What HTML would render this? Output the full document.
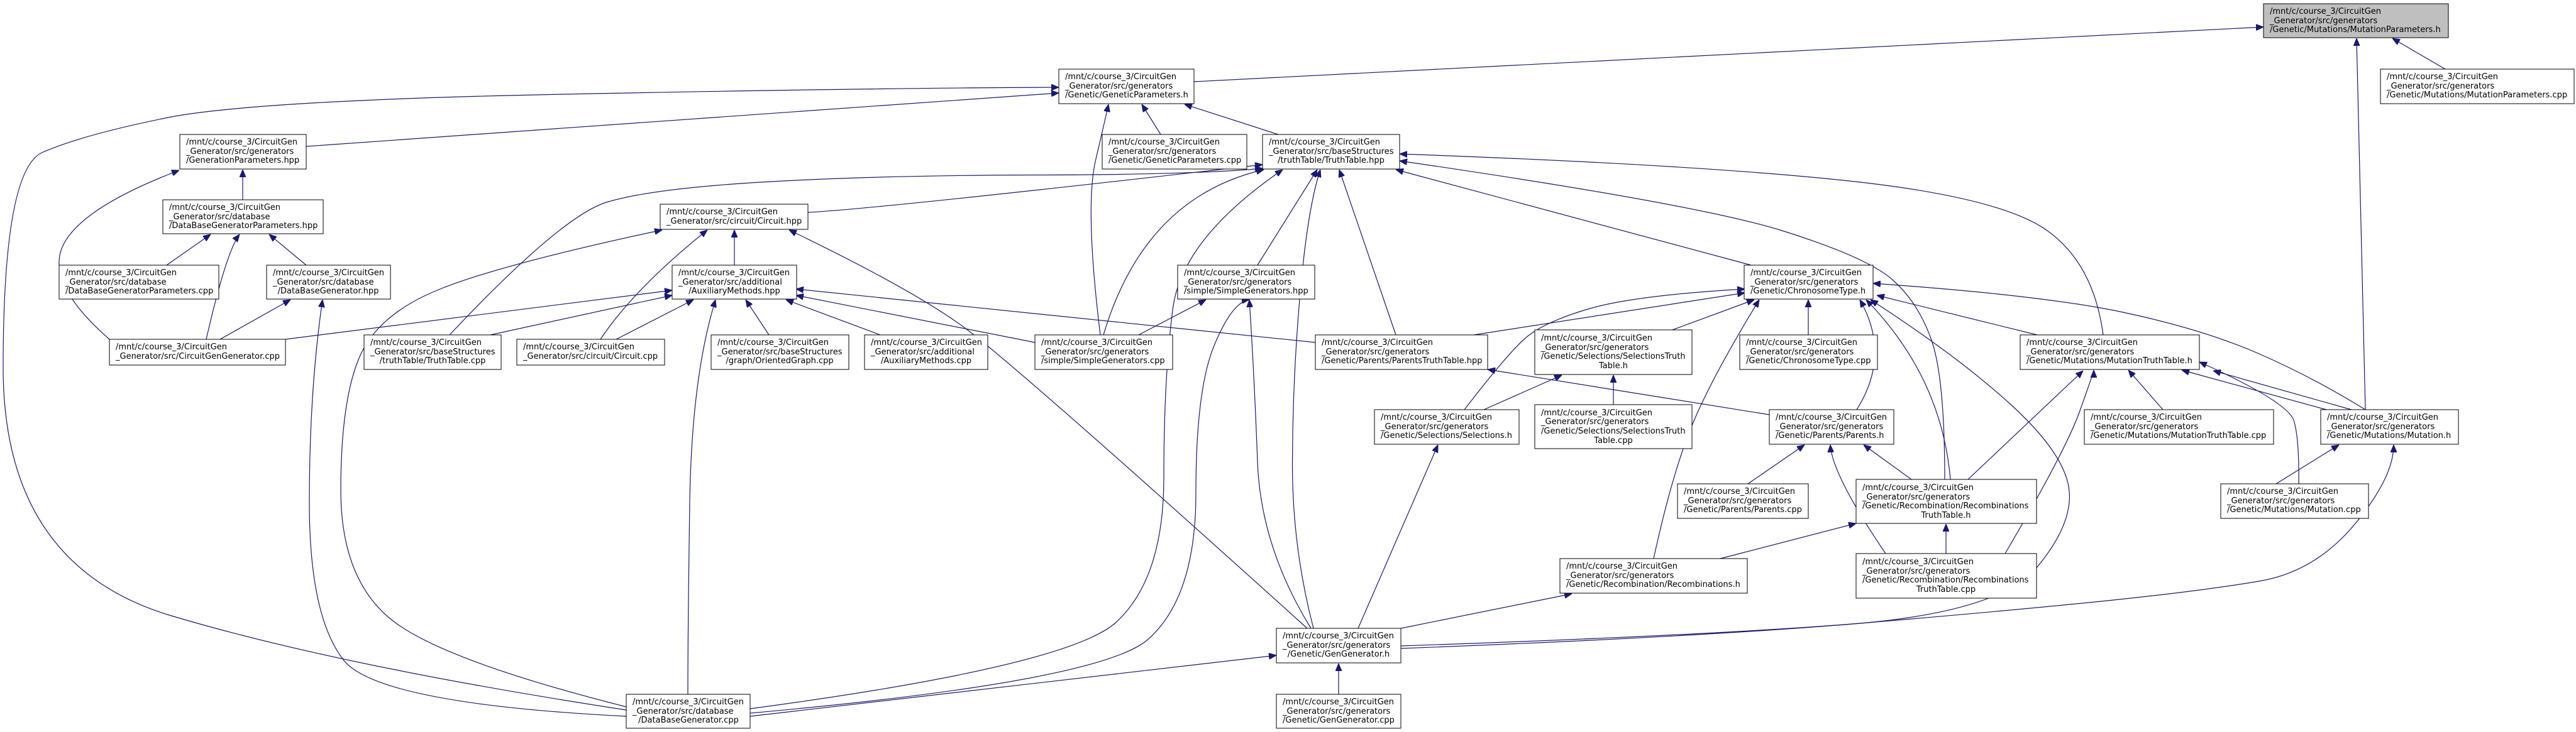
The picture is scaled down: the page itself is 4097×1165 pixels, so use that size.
<!DOCTYPE html>
<html><head><meta charset="utf-8"><style>
html,body{margin:0;padding:0;background:#fff;}
svg{display:block;}
text{font-family:"DejaVu Sans","Liberation Sans",sans-serif;font-size:13px;fill:#000;}
.n{fill:#fff;stroke:#000;stroke-width:1;}
.g{fill:#bfbfbf;stroke:#000;stroke-width:1;}
.e{fill:none;stroke:#191970;stroke-width:1.2;}
</style></head><body>
<svg id="s" width="4097" height="1165" viewBox="0 0 4097 1165" xmlns="http://www.w3.org/2000/svg">
<defs><marker id="a" viewBox="0 0 12 10" refX="12" refY="5" markerWidth="12" markerHeight="10" markerUnits="userSpaceOnUse" orient="auto"><path d="M0,0 L12,5 L0,10 z" fill="#191970" stroke="#191970"/></marker></defs>
<g id="edges"></g>
<g id="nodes">
<rect class="g" x="3600" y="6" width="294" height="54"/><text x="3610" y="22">/mnt/c/course_3/CircuitGen</text><text x="3610" y="37">_Generator/src/generators</text><text x="3610" y="51">/Genetic/Mutations/MutationParameters.h</text>
<rect class="n" x="3786" y="110" width="308" height="55"/><text x="3796" y="126">/mnt/c/course_3/CircuitGen</text><text x="3796" y="141">_Generator/src/generators</text><text x="3796" y="155">/Genetic/Mutations/MutationParameters.cpp</text>
<rect class="n" x="1684" y="110" width="215" height="55"/><text x="1694" y="126">/mnt/c/course_3/CircuitGen</text><text x="1694" y="141">_Generator/src/generators</text><text x="1694" y="155">/Genetic/GeneticParameters.h</text>
<rect class="n" x="286" y="214" width="201" height="55"/><text x="296" y="230">/mnt/c/course_3/CircuitGen</text><text x="296" y="245">_Generator/src/generators</text><text x="296" y="259">/GenerationParameters.hpp</text>
<rect class="n" x="1753" y="214" width="230" height="55"/><text x="1763" y="230">/mnt/c/course_3/CircuitGen</text><text x="1763" y="245">_Generator/src/generators</text><text x="1763" y="259">/Genetic/GeneticParameters.cpp</text>
<rect class="n" x="2008" y="214" width="218" height="55"/><text x="2018" y="230">/mnt/c/course_3/CircuitGen</text><text x="2018" y="245">_Generator/src/baseStructures</text><text x="2117" y="259" text-anchor="middle">/truthTable/TruthTable.hpp</text>
<rect class="n" x="259" y="318" width="255" height="54"/><text x="269" y="334">/mnt/c/course_3/CircuitGen</text><text x="269" y="349">_Generator/src/database</text><text x="269" y="363">/DataBaseGeneratorParameters.hpp</text>
<rect class="n" x="1050" y="325" width="235" height="40"/><text x="1060" y="341">/mnt/c/course_3/CircuitGen</text><text x="1060" y="356">_Generator/src/circuit/Circuit.hpp</text>
<rect class="n" x="94" y="422" width="254" height="54"/><text x="104" y="438">/mnt/c/course_3/CircuitGen</text><text x="104" y="453">_Generator/src/database</text><text x="104" y="467">/DataBaseGeneratorParameters.cpp</text>
<rect class="n" x="424" y="422" width="197" height="54"/><text x="434" y="438">/mnt/c/course_3/CircuitGen</text><text x="434" y="453">_Generator/src/database</text><text x="522" y="467" text-anchor="middle">/DataBaseGenerator.hpp</text>
<rect class="n" x="1069" y="422" width="198" height="54"/><text x="1079" y="438">/mnt/c/course_3/CircuitGen</text><text x="1079" y="453">_Generator/src/additional</text><text x="1168" y="467" text-anchor="middle">/AuxiliaryMethods.hpp</text>
<rect class="n" x="1873" y="422" width="218" height="54"/><text x="1883" y="438">/mnt/c/course_3/CircuitGen</text><text x="1883" y="453">_Generator/src/generators</text><text x="1883" y="467">/simple/SimpleGenerators.hpp</text>
<rect class="n" x="2774" y="422" width="205" height="54"/><text x="2784" y="438">/mnt/c/course_3/CircuitGen</text><text x="2784" y="453">_Generator/src/generators</text><text x="2784" y="467">/Genetic/ChronosomeType.h</text>
<rect class="n" x="174" y="540" width="280" height="41"/><text x="184" y="556">/mnt/c/course_3/CircuitGen</text><text x="184" y="571">_Generator/src/CircuitGenGenerator.cpp</text>
<rect class="n" x="579" y="533" width="218" height="55"/><text x="589" y="549">/mnt/c/course_3/CircuitGen</text><text x="589" y="564">_Generator/src/baseStructures</text><text x="688" y="578" text-anchor="middle">/truthTable/TruthTable.cpp</text>
<rect class="n" x="822" y="540" width="235" height="41"/><text x="832" y="556">/mnt/c/course_3/CircuitGen</text><text x="832" y="571">_Generator/src/circuit/Circuit.cpp</text>
<rect class="n" x="1131" y="533" width="219" height="55"/><text x="1141" y="549">/mnt/c/course_3/CircuitGen</text><text x="1141" y="564">_Generator/src/baseStructures</text><text x="1240" y="578" text-anchor="middle">/graph/OrientedGraph.cpp</text>
<rect class="n" x="1375" y="533" width="196" height="55"/><text x="1385" y="549">/mnt/c/course_3/CircuitGen</text><text x="1385" y="564">_Generator/src/additional</text><text x="1473" y="578" text-anchor="middle">/AuxiliaryMethods.cpp</text>
<rect class="n" x="1646" y="533" width="219" height="55"/><text x="1656" y="549">/mnt/c/course_3/CircuitGen</text><text x="1656" y="564">_Generator/src/generators</text><text x="1656" y="578">/simple/SimpleGenerators.cpp</text>
<rect class="n" x="2092" y="533" width="274" height="55"/><text x="2102" y="549">/mnt/c/course_3/CircuitGen</text><text x="2102" y="564">_Generator/src/generators</text><text x="2102" y="578">/Genetic/Parents/ParentsTruthTable.hpp</text>
<rect class="n" x="2441" y="525" width="250" height="71"/><text x="2451" y="542">/mnt/c/course_3/CircuitGen</text><text x="2451" y="557">_Generator/src/generators</text><text x="2451" y="571">/Genetic/Selections/SelectionsTruth</text><text x="2566" y="586" text-anchor="middle">Table.h</text>
<rect class="n" x="2767" y="533" width="219" height="55"/><text x="2777" y="549">/mnt/c/course_3/CircuitGen</text><text x="2777" y="564">_Generator/src/generators</text><text x="2777" y="578">/Genetic/ChronosomeType.cpp</text>
<rect class="n" x="3213" y="533" width="285" height="55"/><text x="3223" y="549">/mnt/c/course_3/CircuitGen</text><text x="3223" y="564">_Generator/src/generators</text><text x="3223" y="578">/Genetic/Mutations/MutationTruthTable.h</text>
<rect class="n" x="2186" y="652" width="230" height="55"/><text x="2196" y="668">/mnt/c/course_3/CircuitGen</text><text x="2196" y="683">_Generator/src/generators</text><text x="2196" y="697">/Genetic/Selections/Selections.h</text>
<rect class="n" x="2441" y="644" width="250" height="70"/><text x="2451" y="661">/mnt/c/course_3/CircuitGen</text><text x="2451" y="675">_Generator/src/generators</text><text x="2451" y="690">/Genetic/Selections/SelectionsTruth</text><text x="2566" y="705" text-anchor="middle">Table.cpp</text>
<rect class="n" x="2814" y="652" width="198" height="55"/><text x="2824" y="668">/mnt/c/course_3/CircuitGen</text><text x="2824" y="683">_Generator/src/generators</text><text x="2824" y="697">/Genetic/Parents/Parents.h</text>
<rect class="n" x="3315" y="652" width="301" height="55"/><text x="3325" y="668">/mnt/c/course_3/CircuitGen</text><text x="3325" y="683">_Generator/src/generators</text><text x="3325" y="697">/Genetic/Mutations/MutationTruthTable.cpp</text>
<rect class="n" x="3691" y="652" width="219" height="55"/><text x="3701" y="668">/mnt/c/course_3/CircuitGen</text><text x="3701" y="683">_Generator/src/generators</text><text x="3701" y="697">/Genetic/Mutations/Mutation.h</text>
<rect class="n" x="2668" y="770" width="208" height="55"/><text x="2678" y="786">/mnt/c/course_3/CircuitGen</text><text x="2678" y="801">_Generator/src/generators</text><text x="2678" y="815">/Genetic/Parents/Parents.cpp</text>
<rect class="n" x="2952" y="763" width="287" height="70"/><text x="2962" y="780">/mnt/c/course_3/CircuitGen</text><text x="2962" y="795">_Generator/src/generators</text><text x="2962" y="809">/Genetic/Recombination/Recombinations</text><text x="3095" y="824" text-anchor="middle">TruthTable.h</text>
<rect class="n" x="3532" y="770" width="235" height="55"/><text x="3542" y="786">/mnt/c/course_3/CircuitGen</text><text x="3542" y="801">_Generator/src/generators</text><text x="3542" y="815">/Genetic/Mutations/Mutation.cpp</text>
<rect class="n" x="2481" y="889" width="298" height="55"/><text x="2491" y="905">/mnt/c/course_3/CircuitGen</text><text x="2491" y="920">_Generator/src/generators</text><text x="2491" y="934">/Genetic/Recombination/Recombinations.h</text>
<rect class="n" x="2952" y="881" width="287" height="71"/><text x="2962" y="898">/mnt/c/course_3/CircuitGen</text><text x="2962" y="913">_Generator/src/generators</text><text x="2962" y="927">/Genetic/Recombination/Recombinations</text><text x="3095" y="942" text-anchor="middle">TruthTable.cpp</text>
<rect class="n" x="2030" y="1000" width="198" height="55"/><text x="2040" y="1016">/mnt/c/course_3/CircuitGen</text><text x="2040" y="1031">_Generator/src/generators</text><text x="2129" y="1045" text-anchor="middle">/Genetic/GenGenerator.h</text>
<rect class="n" x="2030" y="1105" width="198" height="54"/><text x="2040" y="1121">/mnt/c/course_3/CircuitGen</text><text x="2040" y="1136">_Generator/src/generators</text><text x="2040" y="1150">/Genetic/GenGenerator.cpp</text>
<rect class="n" x="996" y="1105" width="197" height="54"/><text x="1006" y="1121">/mnt/c/course_3/CircuitGen</text><text x="1006" y="1136">_Generator/src/database</text><text x="1095" y="1150" text-anchor="middle">/DataBaseGenerator.cpp</text>
</g>
</svg>
<script>
var E=[
[[1899,130],[3600,43]],
[[3889,110],[3805,61]],
[[3762,652],[3755,400],[3748,61]],
[[487,233],[1684,148]],
[[996,1130],[540,1060],[5,900],[5,270],[130,215],[400,160],[1390,140],[1684,139]],
[[1846,214],[1816,166]],
[[2033,214],[1884,166]],
[[1750,533],[1725,330],[1760,180],[1763,166]],
[[386,318],[386,270]],
[[174,540],[71,450],[130,330],[285,271]],
[[328,540],[360,400],[381,373]],
[[265,422],[335,373]],
[[487,422],[428,373]],
[[350,540],[462,477]],
[[996,1140],[600,1120],[492,980],[492,620],[513,477]],
[[1285,338],[1400,332],[2008,262]],
[[1168,422],[1168,366]],
[[996,1125],[700,1050],[542,920],[542,640],[600,500],[800,420],[1053,366]],
[[955,540],[1009,459],[1125,366]],
[[2079,1000],[1614,580],[1450,460],[1255,366]],
[[454,540],[1069,462]],
[[780,533],[1069,470]],
[[980,540],[1103,477]],
[[1094,1105],[1094,1000],[1100,600],[1138,477]],
[[1223,533],[1186,477]],
[[1400,533],[1250,477]],
[[1646,545],[1266,470]],
[[2092,545],[1266,460]],
[[715,533],[893,344],[1036,300],[1400,279],[1900,278],[2008,268]],
[[1755,533],[1820,314],[2010,270]],
[[1193,1128],[1700,1060],[1851,920],[1851,600],[1880,380],[2040,270]],
[[2000,422],[2095,270]],
[[2089,1000],[2055,870],[2056,600],[2080,330],[2100,270]],
[[2220,533],[2130,270]],
[[2785,422],[2220,270]],
[[3345,533],[3330,420],[3182,314],[2700,262],[2226,245]],
[[3093,763],[3093,600],[3050,480],[2968,409],[2700,325],[2226,256]],
[[1193,1135],[1750,1085],[1902,950],[1902,620],[1960,480],[1987,477]],
[[1811,533],[1918,477]],
[[2085,1000],[2005,870],[1995,600],[1987,477]],
[[1193,1140],[2030,1043]],
[[2228,1028],[2700,1012],[3180,975],[3300,830],[3280,718],[3111,565],[2975,477]],
[[2228,1032],[2700,1014],[3218,970],[3504,940],[3682,910],[3807,760],[3807,708]],
[[2228,1000],[2500,945]],
[[2160,1000],[2287,708]],
[[2129,1105],[2129,1056]],
[[3762,652],[3678,600],[3503,524],[3250,470],[2979,451]],
[[3740,652],[3520,590]],
[[3102,763],[3088,600],[2968,477]],
[[2953,652],[3008,565],[2958,477]],
[[2630,889],[2659,756],[2721,603],[2798,477]],
[[2329,652],[2396,565],[2454,513],[2600,470],[2775,460]],
[[2344,533],[2775,466]],
[[2660,525],[2790,477]],
[[2876,533],[2876,477]],
[[3240,533],[2985,470]],
[[2360,652],[2484,597]],
[[2566,644],[2566,597]],
[[2814,660],[2366,588]],
[[2780,770],[2870,708]],
[[3040,763],[2964,708]],
[[2999,881],[2914,756],[2911,708]],
[[2736,889],[2952,833]],
[[3095,881],[3095,834]],
[[3130,763],[3313,590]],
[[3189,881],[3285,718],[3330,592],[3330,589]],
[[3440,652],[3385,589]],
[[3700,652],[3470,589]],
[[3656,770],[3657,700],[3640,640],[3498,576]],
[[3620,770],[3720,708]]
];
var g=document.getElementById('edges'),ns='http://www.w3.org/2000/svg';
E.forEach(function(p){
 var d='M'+p[0][0]+','+p[0][1];
 if(p.length==2){d+=' L'+p[1][0]+','+p[1][1];}
 else{
  for(var i=1;i<p.length-1;i++){
   var mx=(p[i][0]+p[i+1][0])/2,my=(p[i][1]+p[i+1][1])/2;
   if(i==p.length-2){mx=p[i+1][0];my=p[i+1][1];}
   d+=' Q'+p[i][0]+','+p[i][1]+' '+mx+','+my;
  }
 }
 var e=document.createElementNS(ns,'path');e.setAttribute('d',d);e.setAttribute('class','e');e.setAttribute('marker-end','url(#a)');g.appendChild(e);
});
</script>
</body></html>
